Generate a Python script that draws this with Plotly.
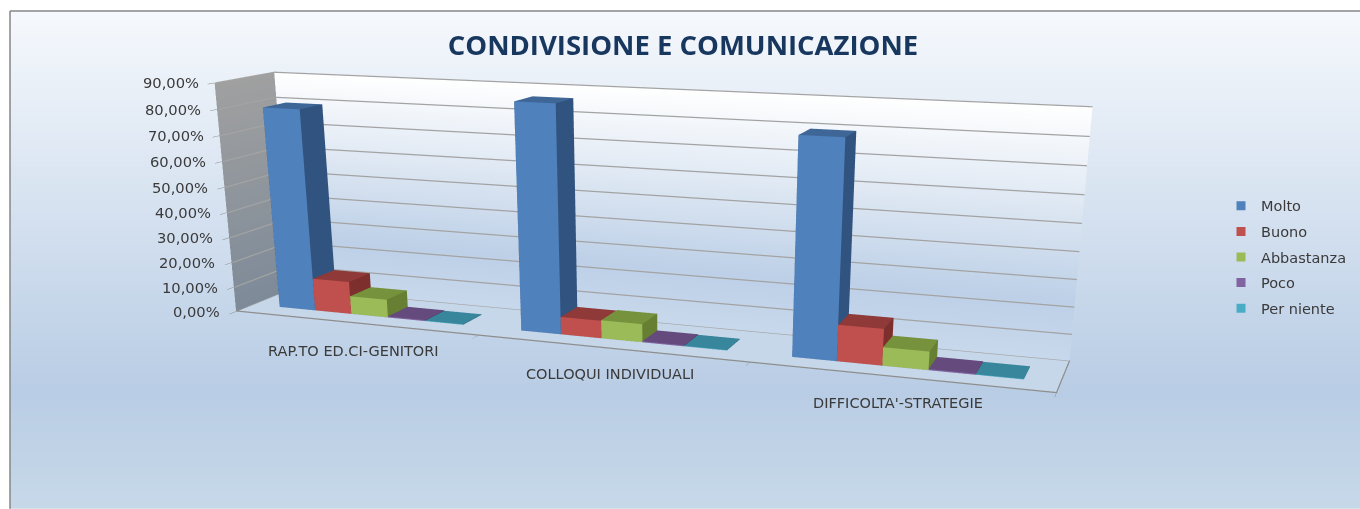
import math
import numpy as np
import plotly.graph_objects as go

categories = ["RAP.TO ED.CI-GENITORI", "COLLOQUI INDIVIDUALI", "DIFFICOLTA'-STRATEGIE"]
series_names = ["Molto", "Buono", "Abbastanza", "Poco", "Per niente"]
molto = [0.798, 0.866, 0.797]
buono = [0.13, 0.068, 0.135]
abbastanza = [0.072, 0.07, 0.068]
poco = [0.004, 0.004, 0.004]
per_niente = [0.002, 0.002, 0.002]
z_ticks = [0.0, 0.1, 0.2, 0.3, 0.4, 0.5, 0.6, 0.7, 0.8, 0.9]

legend_colors = ["#4f81bd", "#c0504d", "#9bbb59", "#8064a2", "#4bacc6"]
front_colors = ["#4f81bd", "#c0504d", "#9bbb59", "#8064a2", "#4bacc6"]
top_colors = ["#3e6797", "#8f3a38", "#76923c", "#654a7d", "#37869c"]
side_colors = ["#31537f", "#7d2f2d", "#667f33", "#503b66", "#2b6b7d"]
label_shifts = [-28, -25, -26]

# camera
EYE = (2.304, -5.976, 1.258)
CENTER = (0.246, -0.253, -0.905)
ASPECT = (3.589, 0.454, 1.0)
CX, CY, FOCAL = 664.152, 450.691, 1566.335

half_h = FOCAL * np.tan(np.pi / 8)
half_w = max(CX - 195, 1105 - CX) + 5
oy = math.ceil(half_h - CY)
ox = max(0, math.ceil(half_w - CX))
FH = float(max(oy + CY + half_h, oy + 509))
FW = ox + 1360


def PX(x):
    return (x + ox) / FW


def PY(y):
    return 1 - (y + oy) / FH


dom_x = [float((ox + CX - half_w) / FW), float((ox + CX + half_w) / FW)]
dom_y = [float(max(0, 1 - (oy + CY + half_h) / FH)), float(min(1, 1 - (oy + CY - half_h) / FH))]

GAP_W = 1.5
GAP_D = 1.5
D0 = (GAP_D / 2) / (1 + GAP_D)
D1 = 1 - D0
n_series = len(series_names)
n_cat = len(categories)


def box(x0, x1, y0, y1, h):
    xs = [x0, x1, x1, x0, x0, x1, x1, x0]
    ys = [y0, y0, y1, y1, y0, y0, y1, y1]
    zs = [0, 0, 0, 0, h, h, h, h]
    i = [0, 0, 1, 1, 4, 4, 3, 3, 0, 0, 0, 0]
    j = [1, 5, 2, 6, 5, 6, 2, 6, 3, 7, 1, 2]
    k = [5, 4, 6, 5, 6, 7, 6, 7, 7, 4, 2, 3]
    return xs, ys, zs, i, j, k


fig = go.Figure()

stops = [(11, (246, 249, 253)), (390, (185, 205, 229)), (509, (199, 217, 233))]
for y in range(11, 509, 2):
    col = [np.interp(y, [s[0] for s in stops], [s[1][n] for s in stops]) for n in range(3)]
    fig.add_shape(type="rect", xref="paper", yref="paper", x0=PX(10), x1=PX(1360), y0=PY(min(y + 3, 509)), y1=PY(y),
                  fillcolor="rgb(%d,%d,%d)" % tuple(col), line_width=0, layer="below")
for x0, y0, x1, y1 in [(10, 11, 1360, 11), (10, 11, 10, 509)]:
    fig.add_shape(type="line", xref="paper", yref="paper", x0=PX(x0), x1=PX(x1), y0=PY(y0), y1=PY(y1),
                  line=dict(color="#868686", width=1.5), layer="below")

zmax = z_ticks[-1]
no_light = dict(ambient=1, diffuse=0, specular=0, fresnel=0, roughness=1)


def wall(xs, ys, zs, cols):
    fig.add_trace(go.Mesh3d(x=xs, y=ys, z=zs, i=[0, 0], j=[1, 2], k=[2, 3], vertexcolor=cols, lighting=no_light,
                            flatshading=True, hoverinfo="skip", showlegend=False, showscale=False))


wall_rows = [(0.0, "#c8d8ec"), (0.22, "#bdd0e7"), (0.9, "#ffffff")]
for (z0, c0), (z1, c1) in zip(wall_rows[:-1], wall_rows[1:]):
    wall([0, n_cat, n_cat, 0], [1, 1, 1, 1], [z0, z0, z1, z1], [c0, c0, c1, c1])
wall([0, 0, 0, 0], [0, 1, 1, 0], [0, 0, zmax, zmax], ["#7d8a98", "#7d8a98", "#a0a0a0", "#a0a0a0"])
wall([0, n_cat, n_cat, 0], [0, 0, 1, 1], [0, 0, 0, 0], ["#c7d7ea"] * 4)

for t in z_ticks:
    fig.add_trace(go.Scatter3d(x=[0.001, n_cat], y=[0.99, 0.99], z=[t, t], mode="lines",
                               line=dict(color="#a3a3a3", width=2.5), hoverinfo="skip", showlegend=False))
    fig.add_trace(go.Scatter3d(x=[0.004, 0.004], y=[0, 1], z=[t, t], mode="lines",
                               line=dict(color="#a3a3a3", width=2.5), hoverinfo="skip", showlegend=False))
fig.add_trace(go.Scatter3d(x=[0, n_cat, n_cat], y=[0, 0, 1], z=[0.002, 0.002, 0.002], mode="lines",
                           line=dict(color="#8e8e8e", width=2.5), hoverinfo="skip", showlegend=False))

values = [molto, buono, abbastanza, poco, per_niente]
for s, name in enumerate(series_names):
    for g in range(n_cat):
        x0 = g + (GAP_W / 2 + s) / (n_series + GAP_W)
        x1 = g + (GAP_W / 2 + s + 1) / (n_series + GAP_W)
        xs, ys, zs, i, j, k = box(x0, x1, D0, D1, values[s][g])
        face = [front_colors[s]] * 2 + [side_colors[s]] * 2 + [top_colors[s]] * 2 + [side_colors[s]] * 6
        fig.add_trace(go.Mesh3d(x=xs, y=ys, z=zs, i=i, j=j, k=k, facecolor=face, lighting=no_light, flatshading=True,
                                name=name, hoverinfo="name", showlegend=False, showscale=False))
    fig.add_trace(go.Scatter(x=[None], y=[None], mode="markers", name=name, legendgroup=name,
                             marker=dict(symbol="square", size=9, color=legend_colors[s])))

annos = []
for t in z_ticks:
    annos.append(dict(x=0, y=0, z=t, text=("%.2f%%" % (t * 100)).replace(".", ","), showarrow=False,
                      xanchor="right", xshift=-14, font=dict(family="DejaVu Sans", size=14.7, color="#3a3a3a")))
for g, name in enumerate(categories):
    annos.append(dict(x=g + 0.5, y=0, z=0, text=name, showarrow=False, yshift=label_shifts[g],
                      font=dict(family="DejaVu Sans", size=14.5, color="#3a3a3a")))

axis_off = dict(showbackground=False, showgrid=False, zeroline=False, showticklabels=False, title="", showspikes=False)
fig.update_layout(
    width=FW, height=FH, margin=dict(l=0, r=0, t=0, b=0),
    paper_bgcolor="rgba(0,0,0,0)", plot_bgcolor="rgba(0,0,0,0)",
    title=dict(text="<b>CONDIVISIONE E COMUNICAZIONE</b>", x=PX(683), y=PY(45), xanchor="center", yanchor="middle",
               font=dict(family="Open Sans", size=27.5, color="#17375e")),
    xaxis=dict(visible=False), yaxis=dict(visible=False), showlegend=True,
    legend=dict(x=PX(1221), y=PY(190), xanchor="left", yanchor="top", bgcolor="rgba(0,0,0,0)",
                tracegroupgap=3.75, font=dict(family="DejaVu Sans", size=14.5, color="#3a3a3a"), itemwidth=30),
    scene=dict(
        domain=dict(x=dom_x, y=dom_y), dragmode="orbit",
        aspectmode="manual", aspectratio=dict(x=ASPECT[0], y=ASPECT[1], z=ASPECT[2]),
        camera=dict(eye=dict(x=EYE[0], y=EYE[1], z=EYE[2]), center=dict(x=CENTER[0], y=CENTER[1], z=CENTER[2]),
                    up=dict(x=0, y=0, z=1), projection=dict(type="perspective")),
        xaxis=dict(axis_off, range=[0, n_cat], tickvals=list(range(n_cat + 1)), ticks="outside", ticklen=6,
                   tickcolor="#8e8e8e", showline=False),
        yaxis=dict(axis_off, range=[0, 1], showline=False),
        zaxis=dict(axis_off, range=[0, zmax + 1e-4], tickvals=z_ticks, ticks="outside", ticklen=6,
                   tickcolor="#8e8e8e", showline=False),
        bgcolor="rgba(0,0,0,0)", annotations=annos,
    ),
)
post = ("document.documentElement.style.overflow='hidden';document.body.style.margin='0';"
        "document.body.style.overflow='hidden';var d=document.getElementById('{plot_id}');"
        "d.style.position='absolute';d.style.left='%dpx';d.style.top='%dpx';" % (-ox, -oy))
fig.write_html("out.html", config=dict(displayModeBar=False), post_script=post)
